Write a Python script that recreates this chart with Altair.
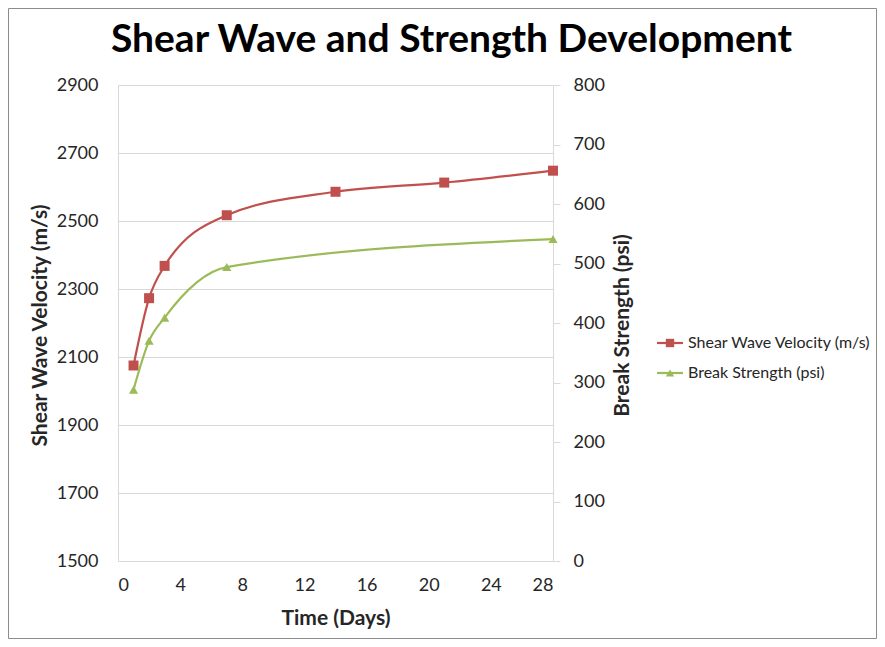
import altair as alt
import pandas as pd

FONT = "Lato"

title_text = "Shear Wave and Strength Development"
series_names = ["Shear Wave Velocity (m/s)", "Break Strength (psi)"]
series_colors = ["#C0504D", "#9BBB59"]
series_shapes = ["square", "triangle-up"]

shear_days = [1, 2, 3, 7, 14, 21, 28]
shear_velocity = [2075, 2273, 2368, 2517, 2586, 2613, 2648]

strength_days = [1, 2, 3, 7, 28]
break_strength = [288, 370, 409, 494, 541]

x_ticks = [0, 4, 8, 12, 16, 20, 24, 28]
left_ticks = [1500, 1700, 1900, 2100, 2300, 2500, 2700, 2900]
right_ticks = [0, 100, 200, 300, 400, 500, 600, 700, 800]

shear_df = pd.DataFrame({"day": shear_days, "value": shear_velocity, "series": series_names[0]})
strength_df = pd.DataFrame({"day": strength_days, "value": break_strength, "series": series_names[1]})
legend_df = pd.DataFrame({"series": series_names})

AX = "#d9d9d9"
TXT = "#262626"

x_enc = alt.X("day:Q", scale=alt.Scale(domain=[0, 28], nice=False, zero=False),
              axis=alt.Axis(values=x_ticks, format="d", title="Time (Days)", grid=False, ticks=False,
                            domainColor=AX, labelPadding=15, titlePadding=13,
                            labelFontSize=18, titleFontSize=21))

y_left = alt.Y("value:Q", scale=alt.Scale(domain=[1500, 2900], nice=False, zero=False),
               axis=alt.Axis(orient="left", values=left_ticks, format="d", title="Shear Wave Velocity (m/s)",
                             grid=True, gridColor=AX, ticks=False, domainColor=AX,
                             labelPadding=20, labelFontSize=18, titleFontSize=21,
                             titleX=-78, titleY=240, titleAngle=270, titleAlign="center",
                             titleBaseline="middle"))

y_right = alt.Y("value:Q", scale=alt.Scale(domain=[0, 800], nice=False, zero=False),
                axis=alt.Axis(orient="right", values=right_ticks, format="d", title="Break Strength (psi)",
                              grid=False, ticks=True, tickSize=7, tickColor=AX, domainColor=AX,
                              labelPadding=13, labelFontSize=18, titleFontSize=21,
                              titleX=69, titleY=240, titleAngle=270, titleAlign="center",
                              titleBaseline="middle"))

shear_line = alt.Chart(shear_df).mark_line(interpolate="monotone", strokeWidth=2.2,
                                           color=series_colors[0]).encode(x=x_enc, y=y_left)
shear_pts = alt.Chart(shear_df).mark_point(shape="square", filled=True, size=100, opacity=1,
                                           color=series_colors[0]).encode(x="day:Q", y="value:Q")

strength_line = alt.Chart(strength_df).mark_line(interpolate="monotone", strokeWidth=2.2,
                                                 color=series_colors[1]).encode(x=x_enc, y=y_right)
strength_pts = alt.Chart(strength_df).mark_point(shape="triangle-up", filled=True, size=85, opacity=1,
                                                 color=series_colors[1]).encode(x="day:Q", y="value:Q")

left = alt.layer(shear_line, shear_pts)
right = alt.layer(strength_line, strength_pts)

# legend built from the series list
leg_y = alt.Y("series:N", scale=alt.Scale(type="point", domain=series_names, range=[258, 288], padding=0),
              axis=None)
leg_color = alt.Color("series:N", scale=alt.Scale(domain=series_names, range=series_colors), legend=None)
leg_rule = alt.Chart(legend_df).mark_rule(strokeWidth=2.2).encode(
    x=alt.value(539), x2=alt.value(565), y=leg_y, color=leg_color)
leg_pt = alt.Chart(legend_df).mark_point(filled=True, size=70, opacity=1).encode(
    x=alt.value(552), y=leg_y, color=leg_color,
    shape=alt.Shape("series:N", scale=alt.Scale(domain=series_names, range=series_shapes), legend=None))
leg_text = alt.Chart(legend_df).mark_text(align="left", baseline="middle", fontSize=16,
                                          color=TXT, font=FONT).encode(
    x=alt.value(570), y=leg_y, text="series:N")
legend = alt.layer(leg_rule, leg_pt, leg_text)

border = alt.Chart(pd.DataFrame({"a": [0]})).mark_rect(fill=None, stroke="#8c8c8c", strokeWidth=1).encode(
    x=alt.value(-109.5), x2=alt.value(758.5), y=alt.value(-76.5), y2=alt.value(553.5))

chart = alt.layer(left, right, legend, border).resolve_scale(y="independent").properties(
    width=435, height=476,
    title=alt.TitleParams(title_text, anchor="middle", frame="group", dx=116, offset=0, dy=83,
                          baseline="alphabetic",
                          fontSize=39, fontWeight="bold", color="#000000", font=FONT),
    autosize=alt.AutoSizeParams(type="none"),
    padding={"left": 110, "top": 77, "right": 324, "bottom": 78},
).configure(font=FONT).configure_axis(
    labelFont=FONT, titleFont=FONT, labelColor=TXT, titleColor=TXT, titleFontWeight="bold"
).configure_view(stroke=None)

chart.save("out.html", embed_options={"renderer": "svg", "actions": False})
